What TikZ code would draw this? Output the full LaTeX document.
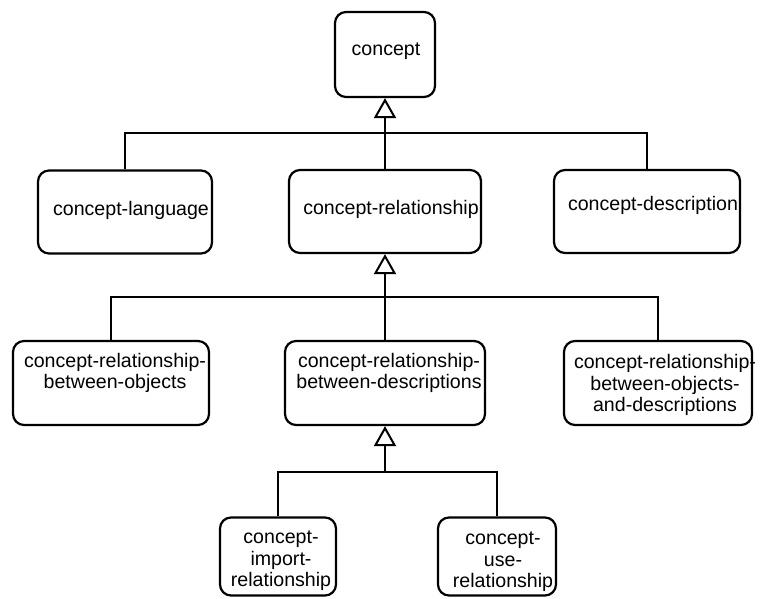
\documentclass[tikz,border=0pt]{standalone}
\usepackage{fontspec}
\setmainfont{Liberation Sans}
\usetikzlibrary{arrows.meta}
\begin{document}
\begin{tikzpicture}[x=1pt,y=-1pt,
  box/.style={draw, line width=2.2pt, rounded corners=11pt, inner sep=0pt},
  lbl/.style={inner sep=0pt, align=center, font=\fontsize{19.6}{21.5}\selectfont},
  link/.style={line width=2.2pt},
  gen/.style={link, -{Triangle[open, length=20pt, width=22pt, line width=2pt]}}]
\useasboundingbox (0,0) rectangle (760,599);

% class boxes
\node[box, minimum width=100pt, minimum height=85pt] (concept) at (385,54.5) {};
\node[box, minimum width=174pt, minimum height=83pt] (lang) at (125,212) {};
\node[box, minimum width=192pt, minimum height=83pt] (rel) at (385,211.5) {};
\node[box, minimum width=186pt, minimum height=83pt] (desc) at (647,211.5) {};
\node[box, minimum width=196pt, minimum height=84pt] (relobj) at (111,383) {};
\node[box, minimum width=200pt, minimum height=84pt] (reldesc) at (385,383) {};
\node[box, minimum width=188pt, minimum height=84pt] (relboth) at (658,383) {};
\node[box, minimum width=116pt, minimum height=78pt] (import) at (278,556.5) {};
\node[box, minimum width=118pt, minimum height=78pt] (use) at (497,556.5) {};

% class names
\node[lbl] (tconcept) at (386,51) {concept};
\node[lbl] (tlang) at (131,210) {concept-language};
\node[lbl] (trel) at (391,209) {concept-relationship};
\node[lbl] (tdesc) at (653,205) {concept-description};
\node[lbl] (trelobj) at (115,373) {concept-relationship-\\between-objects};
\node[lbl] (treldesc) at (389,373) {concept-relationship-\\between-descriptions};
\node[lbl] (trelboth) at (665,385) {concept-relationship-\\between-objects-\\and-descriptions};
\node[lbl] (timport) at (281,561) {concept-\\import-\\relationship};
\node[lbl] (tuse) at (503,562) {concept-\\use-\\relationship};

% junctions of the generalization trees
\coordinate (j1) at (385,133);
\coordinate (j2) at (385,297);
\coordinate (j3) at (385,472);

% generalizations
\draw[gen] (rel.north) -- (concept.south);
\draw[link] (lang.north) |- (j1);
\draw[link] (desc.north) |- (j1);

\draw[gen] (reldesc.north) -- (rel.south);
\draw[link] (relobj.north) |- (j2);
\draw[link] (relboth.north) |- (j2);

\draw[gen] (j3) -- (reldesc.south);
\draw[link] (import.north) |- (j3);
\draw[link] (use.north) |- (j3);
\end{tikzpicture}
\end{document}
